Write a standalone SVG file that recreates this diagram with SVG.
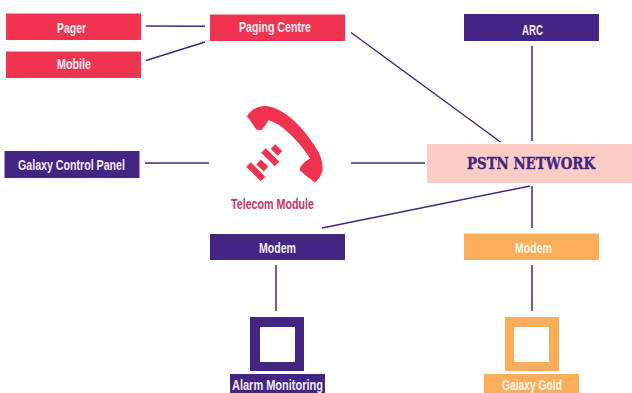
<svg xmlns="http://www.w3.org/2000/svg" width="632" height="393" viewBox="0 0 632 393">
<style>
.red{fill:#f03450}.pur{fill:#442583}.ora{fill:#fbad5a}
text{font-family:"Liberation Sans",Arial,sans-serif;font-weight:700;font-size:15.5px;fill:#f3ebf2}
.conn line{stroke:#442583;stroke-width:1.5;fill:none}
</style>
<rect width="632" height="393" fill="#fff"/>
<g id="connectors" class="conn">
<line x1="146" y1="26" x2="205" y2="26.300"/>
<line x1="146" y1="60.500" x2="205" y2="42"/>
<line x1="351" y1="32.500" x2="500.500" y2="142"/>
<line x1="145" y1="163" x2="209" y2="163"/>
<line x1="351" y1="163" x2="425" y2="163"/>
<line x1="532" y1="46" x2="532" y2="141"/>
<line x1="530" y1="186" x2="322" y2="228"/>
<line x1="532" y1="186" x2="532" y2="228"/>
<line x1="276" y1="265" x2="276" y2="311"/>
<line x1="532" y1="265" x2="532" y2="311"/>
</g>
<g id="pager"><rect class="red" x="6" y="13.500" width="135" height="26.500"/><text x="57" y="33" textLength="29" lengthAdjust="spacingAndGlyphs">Pager</text></g>
<g id="mobile"><rect class="red" x="6" y="51.500" width="135" height="26.500"/><text x="57" y="69" textLength="34" lengthAdjust="spacingAndGlyphs">Mobile</text></g>
<g id="paging-centre"><rect class="red" x="210" y="14.500" width="135" height="26.500"/><text x="239" y="32" textLength="72" lengthAdjust="spacingAndGlyphs">Paging Centre</text></g>
<g id="arc"><rect class="pur" x="464" y="14" width="135" height="27"/><text x="522" y="35" textLength="21" lengthAdjust="spacingAndGlyphs">ARC</text></g>
<g id="galaxy-control-panel"><rect class="pur" x="4.500" y="151" width="135" height="27"/><text x="18" y="170" textLength="107" lengthAdjust="spacingAndGlyphs">Galaxy Control Panel</text></g>
<g id="telecom-module">
<path class="red" d="M247 116.500C250 110 258 106 265 106C272 106 280 110 287 115C298 123 310 137 319 153C322 160 323 166 322.500 170C321.500 175 319 179 315 182.500C310 179 305 175 300 170.500C299.500 168 301 165 303 164C305 161 308 160 310 158.500C303 147 293 136 283 128C278 124 273 122 268.500 120C267 124 264 127 262 129.500C260 131 257 130 256 129C253 125 250 120 247 116.500Z"/>
<g stroke="#f03450" stroke-width="6.500" fill="none"><line x1="248.500" y1="164.500" x2="263" y2="179"/><line x1="258.500" y1="162" x2="266" y2="169"/><line x1="263.500" y1="150.500" x2="277" y2="164"/><line x1="273" y1="146.500" x2="280" y2="153.500"/></g>
<text x="231" y="209" textLength="83" lengthAdjust="spacingAndGlyphs" style="fill:#c9345f">Telecom Module</text>
</g>
<g id="pstn-network"><rect x="427" y="144" width="205" height="39" fill="#fccdc5"/><text x="467" y="169" textLength="128" lengthAdjust="spacingAndGlyphs" style="font-family:'DejaVu Serif','Liberation Serif',serif;font-size:16px;fill:#442583;stroke:#442583;stroke-width:.35">PSTN NETWORK</text></g>
<g id="modem-1"><rect class="pur" x="210" y="234" width="135" height="26"/><text x="259" y="253" textLength="37" lengthAdjust="spacingAndGlyphs">Modem</text></g>
<g id="modem-2"><rect class="ora" x="464" y="233.500" width="135" height="26.500"/><text x="515" y="253" textLength="37" lengthAdjust="spacingAndGlyphs" style="fill:#fff6ea">Modem</text></g>
<g id="alarm-monitoring"><path class="pur" fill-rule="evenodd" d="M250 317h54v54h-54zM260 327v35h35v-35z"/><rect class="pur" x="230" y="374" width="95" height="19"/><text x="232" y="390" textLength="91" lengthAdjust="spacingAndGlyphs">Alarm Monitoring</text></g>
<g id="galaxy-gold"><path class="ora" fill-rule="evenodd" d="M505 317h54v54h-54zM514 327v35h35v-35z"/><rect class="ora" x="484" y="374" width="95" height="19"/><text x="502" y="390" textLength="60" lengthAdjust="spacingAndGlyphs" style="fill:#fff6ea">Galaxy Gold</text></g>
</svg>
